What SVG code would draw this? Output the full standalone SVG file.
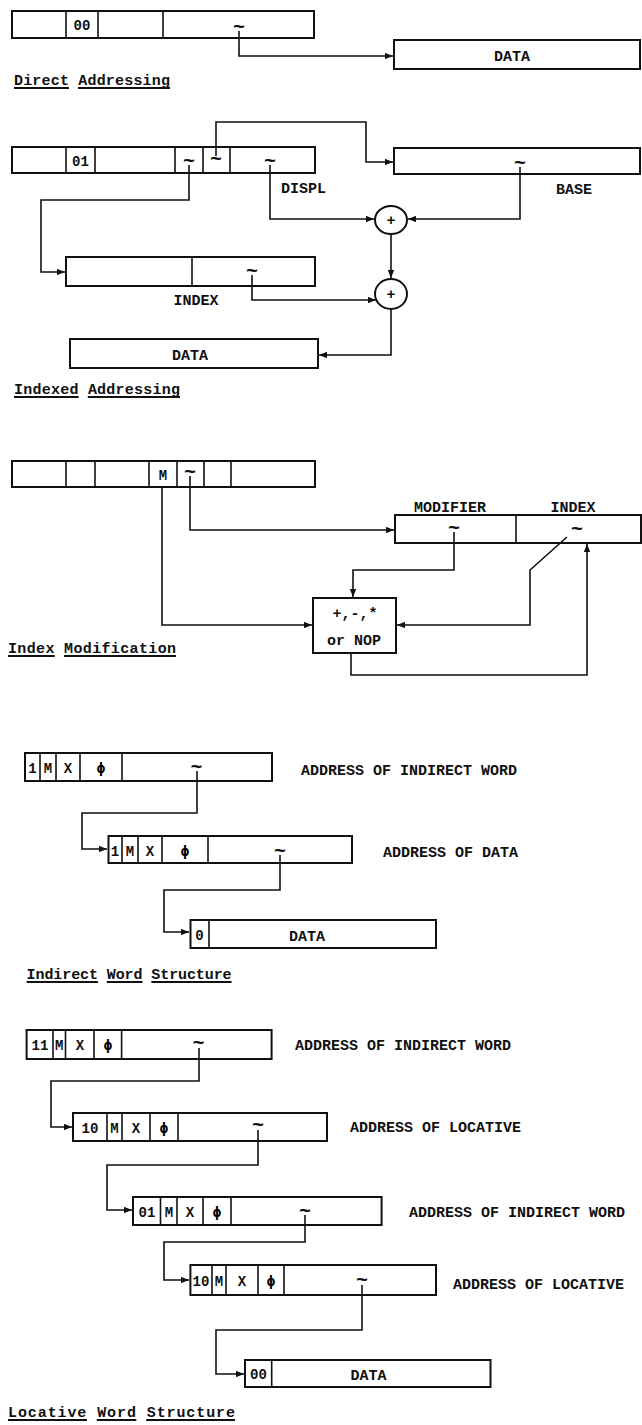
<svg xmlns="http://www.w3.org/2000/svg" width="642" height="1425" viewBox="0 0 642 1425">
<defs>
<marker id="ah" viewBox="0 0 10 8" refX="10" refY="4" markerWidth="8" markerHeight="6.5" markerUnits="userSpaceOnUse" orient="auto"><path d="M0,0 L10,4 L0,8 z" fill="#111"/></marker>
<style>
.box{fill:none;stroke:#111;stroke-width:2}
.dv{fill:none;stroke:#111;stroke-width:1.6}
.c{fill:none;stroke:#111;stroke-width:1.6;marker-end:url(#ah)}
.ul{stroke:#111;stroke-width:2}
text{font-family:"Liberation Mono","DejaVu Sans Mono",monospace;font-weight:bold;fill:#111}
.t{font-size:15px}
.m{font-size:15px;text-anchor:middle}
.s{font-size:14px;text-anchor:middle}
.ph{font-family:"DejaVu Sans Mono","DejaVu Sans",monospace;font-size:14px;text-anchor:middle;fill:#000}
.tl{font-size:20px;text-anchor:middle}
.ttl{font-size:15px}
</style>
</defs>
<rect width="642" height="1425" fill="#fff"/>

<!-- Direct Addressing -->
<g id="direct-word">
<rect class="box" x="12" y="11" width="302" height="27"/>
<path class="dv" d="M66,11V38M98,11V38M163,11V38"/>
<text class="s" x="82" y="30">00</text>
<text class="tl" x="239" y="33">~</text>
</g>
<g id="direct-data">
<rect class="box" x="394" y="40" width="246" height="29"/>
<text class="m" x="512" y="61">DATA</text>
</g>
<g id="title-direct">
<text class="ttl" x="14" y="85" textLength="156" lengthAdjust="spacing">Direct Addressing</text>
<path class="ul" d="M14,88H69M78,88H170"/>
</g>

<!-- Indexed Addressing -->
<g id="indexed-word">
<rect class="box" x="12" y="147" width="303" height="26"/>
<path class="dv" d="M66,147V173M95,147V173M175,147V173M203,147V173M230,147V173"/>
<text class="s" x="80.5" y="166">01</text>
<text class="tl" x="189" y="167">~</text>
<text class="tl" x="216" y="165">~</text>
<text class="tl" x="270" y="167">~</text>
<text class="t" x="281" y="193">DISPL</text>
</g>
<g id="base">
<rect class="box" x="394" y="148" width="246" height="26"/>
<text class="tl" x="520" y="169">~</text>
<text class="m" x="574" y="194">BASE</text>
</g>
<g id="adder1">
<ellipse class="box" cx="391" cy="220" rx="16" ry="14"/>
<text class="m" x="391" y="225">+</text>
</g>
<g id="adder2">
<ellipse class="box" cx="391" cy="294" rx="16" ry="15"/>
<text class="m" x="391" y="299">+</text>
</g>
<g id="index-reg">
<rect class="box" x="66" y="257" width="249" height="29"/>
<path class="dv" d="M192,257V286"/>
<text class="tl" x="252" y="277">~</text>
<text class="m" x="196" y="305">INDEX</text>
</g>
<g id="indexed-data">
<rect class="box" x="70" y="339" width="248" height="29"/>
<text class="m" x="190" y="360">DATA</text>
</g>
<g id="title-indexed">
<text class="ttl" x="14" y="394" textLength="166" lengthAdjust="spacing">Indexed Addressing</text>
<path class="ul" d="M14,397H78.6M87.8,397H180"/>
</g>

<!-- Index Modification -->
<g id="mod-word">
<rect class="box" x="12" y="461" width="303" height="26"/>
<path class="dv" d="M66,461V487M95,461V487M149,461V487M177,461V487M204,461V487M231,461V487"/>
<text class="s" x="163" y="480">M</text>
<text class="tl" x="190" y="478">~</text>
</g>
<g id="modifier-index">
<rect class="box" x="395" y="515" width="246" height="28"/>
<path class="dv" d="M516,515V543"/>
<text class="m" x="450" y="512">MODIFIER</text>
<text class="m" x="573" y="512">INDEX</text>
<text class="tl" x="454" y="534">~</text>
<text class="tl" x="577" y="535">~</text>
</g>
<g id="op">
<rect class="box" x="313" y="598" width="83" height="55"/>
<text class="m" x="355" y="618">+,-,*</text>
<text class="m" x="354" y="645">or NOP</text>
</g>
<g id="title-modification">
<text class="ttl" x="8" y="653" textLength="168" lengthAdjust="spacing">Index Modification</text>
<path class="ul" d="M8,656H54.7M64,656H176"/>
</g>

<!-- Indirect Word Structure -->
<g id="ind-word1">
<rect class="box" x="25" y="753" width="247" height="28"/>
<path class="dv" d="M40,753V781M56,753V781M80,753V781M122,753V781"/>
<text class="s" x="32.5" y="773">1</text>
<text class="s" x="48" y="773">M</text>
<text class="s" x="68" y="773">X</text>
<text class="ph" x="101" y="773">ϕ</text>
<text class="tl" x="196.5" y="773">~</text>
<text class="t" x="301" y="775">ADDRESS OF INDIRECT WORD</text>
</g>
<g id="ind-word2">
<rect class="box" x="108.5" y="836" width="243.5" height="27"/>
<path class="dv" d="M122,836V863M138,836V863M162,836V863M208,836V863"/>
<text class="s" x="115" y="856">1</text>
<text class="s" x="130" y="856">M</text>
<text class="s" x="150" y="856">X</text>
<text class="ph" x="185" y="856">ϕ</text>
<text class="tl" x="280" y="857">~</text>
<text class="t" x="383" y="857">ADDRESS OF DATA</text>
</g>
<g id="ind-data">
<rect class="box" x="190.5" y="920" width="245.5" height="28"/>
<path class="dv" d="M209,920V948"/>
<text class="s" x="199.5" y="940">0</text>
<text class="m" x="307" y="941">DATA</text>
</g>
<g id="title-indirect">
<text class="ttl" x="26.6" y="979" textLength="205" lengthAdjust="spacing">Indirect Word Structure</text>
<path class="ul" d="M26.6,982H97.9M106.8,982H142.5M151.4,982H231.6"/>
</g>

<!-- Locative Word Structure -->
<g id="loc-word1">
<rect class="box" x="26.6" y="1030" width="245" height="29"/>
<path class="dv" d="M53,1030V1059M65.5,1030V1059M94,1030V1059M121.6,1030V1059"/>
<text class="s" x="40" y="1050">11</text>
<text class="s" x="59.3" y="1050">M</text>
<text class="s" x="80" y="1050">X</text>
<text class="ph" x="108" y="1050">ϕ</text>
<text class="tl" x="198.6" y="1049">~</text>
<text class="t" x="295" y="1050">ADDRESS OF INDIRECT WORD</text>
</g>
<g id="loc-word2">
<rect class="box" x="73" y="1113" width="254" height="28"/>
<path class="dv" d="M107,1113V1141M122,1113V1141M150,1113V1141M178,1113V1141"/>
<text class="s" x="90" y="1133">10</text>
<text class="s" x="114.5" y="1133">M</text>
<text class="s" x="136" y="1133">X</text>
<text class="ph" x="164" y="1133">ϕ</text>
<text class="tl" x="258" y="1131">~</text>
<text class="t" x="350" y="1132">ADDRESS OF LOCATIVE</text>
</g>
<g id="loc-word3">
<rect class="box" x="133" y="1197" width="248.6" height="28"/>
<path class="dv" d="M160.5,1197V1225M177,1197V1225M203,1197V1225M231,1197V1225"/>
<text class="s" x="147" y="1217">01</text>
<text class="s" x="169" y="1217">M</text>
<text class="s" x="190" y="1217">X</text>
<text class="ph" x="217" y="1217">ϕ</text>
<text class="tl" x="305" y="1217">~</text>
<text class="t" x="409" y="1217">ADDRESS OF INDIRECT WORD</text>
</g>
<g id="loc-word4">
<rect class="box" x="190.4" y="1265" width="245.6" height="30"/>
<path class="dv" d="M212,1265V1295M226,1265V1295M258,1265V1295M284,1265V1295"/>
<text class="s" x="201" y="1286">10</text>
<text class="s" x="219" y="1286">M</text>
<text class="s" x="242" y="1286">X</text>
<text class="ph" x="271" y="1286">ϕ</text>
<text class="tl" x="362" y="1286">~</text>
<text class="t" x="453" y="1289">ADDRESS OF LOCATIVE</text>
</g>
<g id="loc-data">
<rect class="box" x="245" y="1360" width="245.5" height="27"/>
<path class="dv" d="M271.7,1360V1387"/>
<text class="s" x="258.4" y="1379">00</text>
<text class="m" x="368.5" y="1380">DATA</text>
</g>
<g id="title-locative">
<text class="ttl" x="8" y="1417" textLength="227" lengthAdjust="spacing">Locative Word Structure</text>
<path class="ul" d="M8,1420H87M96.8,1420H136.3M146.2,1420H235"/>
</g>

<g id="connectors">
<path class="c" d="M239,31V56H393"/>
<path class="c" d="M216,156V122H366V162H393"/>
<path class="c" d="M270,165V219H374"/>
<path class="c" d="M520,167V219H408"/>
<path class="c" d="M391,234V278"/>
<path class="c" d="M189,165V200H41V272H65"/>
<path class="c" d="M252,275V300H376"/>
<path class="c" d="M391,309V355H319"/>
<path class="c" d="M162,487V625H312"/>
<path class="c" d="M190,476V530H394"/>
<path class="c" d="M454,532V570H353V597"/>
<path class="c" d="M567,537L530,570V625H397"/>
<path class="c" d="M351,653V675H587V544"/>
<path class="c" d="M197,771V813H82V849H107"/>
<path class="c" d="M280,855V890H164V932H189"/>
<path class="c" d="M199,1048V1081H51V1127H72"/>
<path class="c" d="M258,1130V1165H107V1210H132"/>
<path class="c" d="M305,1215V1242H164V1280H189"/>
<path class="c" d="M362,1285V1330H216V1374H244"/>
</g>
</svg>
